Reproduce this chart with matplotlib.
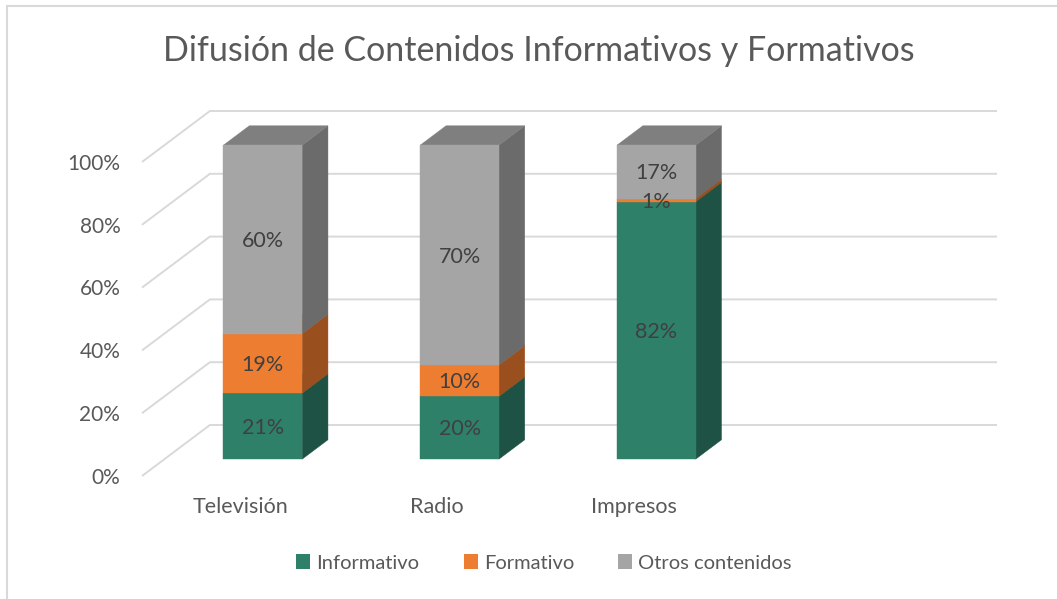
import matplotlib
matplotlib.use("Agg")
import matplotlib.pyplot as plt
from matplotlib.patches import Polygon, Patch, Rectangle

categorias = ["Televisión", "Radio", "Impresos", ""]
series = ["Informativo", "Formativo", "Otros contenidos"]
informativo = [21, 20, 82]
formativo = [19, 10, 1]
otros = [60, 70, 17]
ticks = [0, 20, 40, 60, 80, 100]

# front / side / top shades per series
colores = {
    "Informativo": ("#2E8068", "#1D5244", "#256A56"),
    "Formativo": ("#ED7D31", "#9A4F1E", "#C0652A"),
    "Otros contenidos": ("#A5A5A5", "#6B6B6B", "#7F7F7F"),
}

plt.rcParams['font.family'] = ['Lato', 'DejaVu Sans']
gris_txt = "#595959"

W, H = 1057, 599
fig = plt.figure(figsize=(W / 100, H / 100), dpi=100)
ax = fig.add_axes([142 / W, (H - 476) / H, 855 / W, 365 / H])

DX = 68 / 197   # depth offset in category units
DY = 51 / 3.14  # depth offset in % units
ax.set_xlim(0, len(categorias) + DX)
ax.set_ylim(0, 100 + DY)
ax.axis('off')


def proj(x, y, z):
    return (x + z * DX, y + z * DY)


# gridlines: side wall + back wall
for t in ticks:
    p0 = proj(0, t, 0)
    p1 = proj(0, t, 1)
    p2 = proj(len(categorias), t, 1)
    ax.plot([p0[0], p1[0], p2[0]], [p0[1], p1[1], p2[1]], color="#D9D9D9",
            lw=1.4, clip_on=False, zorder=1, solid_capstyle='butt')
    ax.text(-0.11, t - 0.6, f"{t}%", ha="right", va="center", fontsize=15,
            color=gris_txt)

# bars
ancho = 0.4
z0, z1 = 0.33, 0.71
valores = [informativo, formativo, otros]
for i in range(len(informativo)):
    x0 = i + 0.5 - ancho / 2
    x1 = i + 0.5 + ancho / 2
    base = 0
    for nombre, vals in zip(series, valores):
        v = vals[i]
        y0, y1 = base, base + v
        front, side, top = colores[nombre]
        cara = [proj(x0, y0, z0), proj(x1, y0, z0), proj(x1, y1, z0), proj(x0, y1, z0)]
        lado = [proj(x1, y0, z0), proj(x1, y0, z1), proj(x1, y1, z1), proj(x1, y1, z0)]
        tapa = [proj(x0, y1, z0), proj(x1, y1, z0), proj(x1, y1, z1), proj(x0, y1, z1)]
        for pts, c in ((lado, side), (tapa, top), (cara, front)):
            ax.add_patch(Polygon(pts, closed=True, facecolor=c, edgecolor=c,
                                 lw=0.3, zorder=2, clip_on=False))
        cx, cy = proj(i + 0.5, (y0 + y1) / 2, z0)
        ax.text(cx, cy - 0.5, f"{v}%", ha="center", va="center", fontsize=15.5,
                color="#404040", zorder=5)
        base = y1

for i, c in enumerate(categorias):
    ax.text(i + 0.5, -10, c, ha="center", va="center", fontsize=15.5,
            color=gris_txt)

fig.text(539 / W, 1 - 51 / H, "Difusión de Contenidos Informativos y Formativos",
         ha="center", va="center", fontsize=24.5, color=gris_txt)

handles = [Patch(facecolor=colores[s][0], edgecolor="none", label=s) for s in series]
fig.legend(handles=handles, loc="center", bbox_to_anchor=(544 / W, 1 - 563 / H),
           ncol=3, frameon=False, fontsize=14.5, handlelength=0.7,
           handleheight=0.7, handletextpad=0.3, columnspacing=2.2,
           labelcolor=gris_txt)

# chart area border (only top and left visible)
fig.add_artist(Rectangle((7 / W, -0.1), 1.2, 1.1 - 6 / H, transform=fig.transFigure,
                         fill=False, edgecolor="#D9D9D9", lw=1.5))

fig.savefig("out.png", dpi=100)
